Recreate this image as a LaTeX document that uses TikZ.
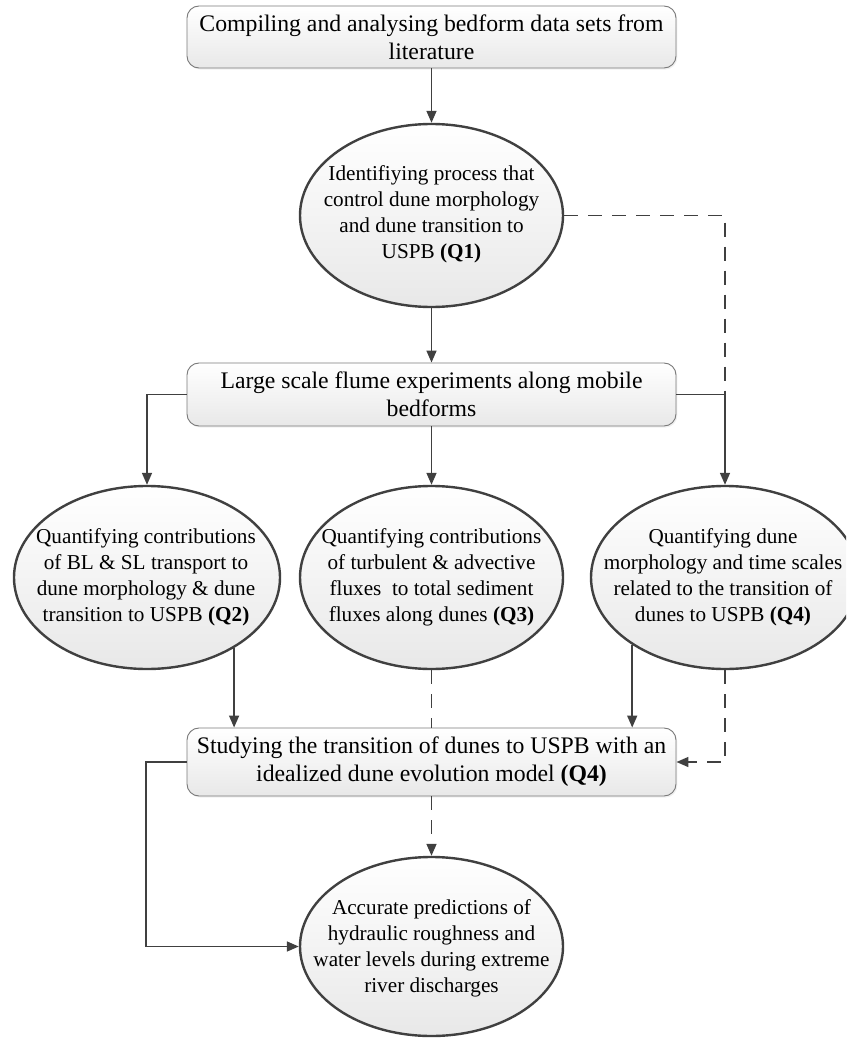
\documentclass[tikz,border=0pt]{standalone}
\usepackage{fontspec}
\setmainfont{Liberation Serif}
\usetikzlibrary{arrows.meta,shapes.geometric,shadows}
\definecolor{lncol}{HTML}{404040}
\definecolor{bxcol}{HTML}{7A7A7A}
\begin{document}
\begin{tikzpicture}[x=0.75pt,y=-0.75pt,
  every node/.style={text=black},
  rbox/.style={draw=bxcol, line width=0.7pt, rounded corners=9pt, top color=white, bottom color=black!9,
    minimum width=366.75pt, align=center, inner sep=1pt,
    font=\fontsize{17.8}{21}\selectfont,
    drop shadow={opacity=0.12, shadow xshift=1pt, shadow yshift=-1.2pt}},
  ell/.style={ellipse, draw=lncol, line width=1.8pt, top color=white, bottom color=black!9, inner sep=0pt},
  txt/.style={align=center, inner sep=0pt, font=\fontsize{15.9}{19.5}\selectfont},
  conn/.style={draw=lncol, line width=1.2pt},
  arr/.style={conn, -{Triangle[length=9pt,width=7.5pt]}},
  dsh/.style={conn, dash pattern=on 10.5pt off 7.5pt},
  darr/.style={dsh, -{Triangle[length=9pt,width=7.5pt]}}
]
\clip (0,0) rectangle (846,1038);

% nodes
\node[rbox, minimum height=46.5pt] (top) at (431.5,37)
  {Compiling and analysing bedform data sets from\\literature};

\node[ell, minimum width=197.25pt, minimum height=137.25pt] (q1) at (431.5,215.5) {};
\node[txt] (q1t) at (431.5,214)
  {Identifiying process that\\control dune morphology\\and dune transition to\\USPB \textbf{(Q1)}};

\node[rbox, minimum height=47.25pt] (mid) at (431.5,394.5)
  {Large scale flume experiments along mobile\\bedforms};

\node[ell, minimum width=199.5pt, minimum height=137.25pt] (q2) at (147,577.5) {};
\node[txt] (q2t) at (146,577.5)
  {Quantifying contributions\\of BL \& SL transport to\\dune morphology \& dune\\transition to USPB \textbf{(Q2)}};

\node[ell, minimum width=197.25pt, minimum height=137.25pt] (q3) at (431.5,577.5) {};
\node[txt] (q3t) at (431.5,577.5)
  {Quantifying contributions\\of turbulent \& advective\\fluxes\ \ to total sediment\\fluxes along dunes \textbf{(Q3)}};

\node[ell, minimum width=201pt, minimum height=137.25pt] (q4) at (725,577.5) {};
\node[txt] (q4t) at (723,577.5)
  {Quantifying dune\\morphology and time scales\\related to the transition of\\dunes to USPB \textbf{(Q4)}};

\node[rbox, minimum height=51pt] (bb) at (431.5,762)
  {Studying the transition of dunes to USPB with an\\idealized dune evolution model \textbf{(Q4)}};

\node[ell, minimum width=197.25pt, minimum height=134.25pt] (fe) at (431.5,946.5) {};
\node[txt] (fet) at (431.5,948.5)
  {Accurate predictions of\\hydraulic roughness and\\water levels during extreme\\river discharges};

\coordinate (j1) at (725,394.5);

% connectors
\draw[arr] (top.south) -- (q1.north);
\draw[dsh] (q1.east) -| (j1);
\draw[arr] (q1.south) -- (mid.north);
\draw[arr] (mid.west) -| (q2.north);
\draw[arr] (mid.south) -- (q3.north);
\draw[arr] (mid.east) -| (q4.north);
\draw[arr] (q2.-39.5) -- (q2.-39.5 |- bb.north);
\draw[dsh] (q3.south) -- (q3.south |- bb.north);
\draw[arr] (q4.216.4) -- (q4.216.4 |- bb.north);
\draw[darr] (q4.south) |- (bb.east);
\draw[arr] (bb.west) -- ++(-40.5,0) |- (fe.west);
\draw[darr] (bb.south) -- (fe.north);
\end{tikzpicture}
\end{document}
